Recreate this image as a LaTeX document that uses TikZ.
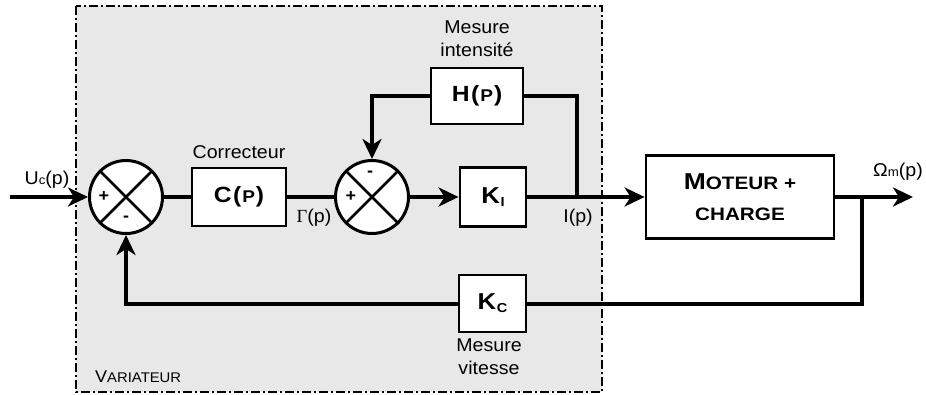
\documentclass[tikz,border=0pt]{standalone}
\usepackage{fontspec}
\setmainfont{Liberation Sans}[FakeStretch=1.06]
\newfontfamily\blkfont{Liberation Sans}[FakeStretch=1.12]
\newfontfamily\motfont{Liberation Sans}[FakeStretch=1.15]
\newfontfamily\serifgr{Liberation Serif}
\usetikzlibrary{arrows.meta}
\begin{document}
\begin{tikzpicture}[x=1pt,y=-1pt,
  blk/.style={draw,line width=2.8pt,fill=white,inner sep=0pt,font=\blkfont\bfseries\fontsize{22}{24}\selectfont},
  sumn/.style={draw,circle,line width=3pt,fill=white,minimum size=73pt,inner sep=0pt},
  cross/.style={line width=2.6pt},
  conn/.style={line width=4pt},
  arr/.style={conn,-{Stealth[length=20pt,width=19pt,inset=6pt]}},
  lbl/.style={font=\fontsize{18.5}{23}\selectfont,inner sep=0pt,align=center},
  sgn/.style={font=\bfseries\fontsize{17}{17}\selectfont,inner sep=0pt}]
\useasboundingbox (0,0) rectangle (926,394);
\draw[fill=black!9, line width=1.2pt, dash pattern=on 9pt off 3pt on 2pt off 3pt] (76,6) rectangle (602,392);

% summing junctions
\node[sumn] (s1) at (126,197) {};
\draw[cross] (s1.north west) -- (s1.south east) (s1.north east) -- (s1.south west);
\node[sgn] (s1p) at (104,197) {+};
\node[sgn] (s1m) at (126,219) {-};

\node[sumn] (s2) at (372,197) {};
\draw[cross] (s2.north west) -- (s2.south east) (s2.north east) -- (s2.south west);
\node[sgn] (s2p) at (351,197) {+};
\node[sgn] (s2m) at (370,174) {-};

% blocks
\node[blk,minimum width=94pt,minimum height=58pt] (C) at (239,197) {C\kern1.5pt(\kern1pt{\fontsize{17}{17}\selectfont P}\kern1pt)};
\node[blk,minimum width=92pt,minimum height=56pt] (H) at (477,96) {H\kern1.5pt(\kern1pt{\fontsize{17}{17}\selectfont P}\kern1pt)};
\node[blk,minimum width=66pt,minimum height=59pt] (KI) at (493,197) {{\fontsize{23}{23}\selectfont K}\kern0.5pt\raisebox{-3pt}{\fontsize{13}{13}\selectfont I}};
\node[blk,minimum width=67pt,minimum height=57pt] (Kc) at (492.5,303.5) {{\fontsize{23}{23}\selectfont K}\kern0.5pt\raisebox{-3pt}{\fontsize{13}{13}\selectfont C}};
\node[blk,minimum width=188pt,minimum height=83pt,align=center,font=\motfont\bfseries\fontsize{18}{31}\selectfont] (M) at (740,197) {{\fontsize{23}{31}\selectfont M}OTEUR +\\CHARGE};

% connectors
\coordinate (in) at (10,197);
\coordinate (b1) at (577,197);
\coordinate (b2) at (862,197);
\coordinate (out) at (913,197);
\draw[arr] (in) -- (s1.west);
\draw[conn] (s1.east) -- (C.west);
\draw[conn] (C.east) -- (s2.west);
\draw[arr] (s2.east) -- (KI.west);
\draw[arr] (KI.east) -- (M.west);
\draw[conn] (b1) |- (H.east);
\draw[arr] (H.west) -| (s2.north);
\draw[arr] (M.east) -- (out);
\draw[conn] (b2) |- (Kc.east);
\draw[arr] (Kc.west) -| (s1.south);

% labels
\node[lbl] (uc) at (47,180) {U{\fontsize{12.5}{12.5}\selectfont c}(p)};
\node[lbl] (corr) at (239,152) {Correcteur};
\node[lbl] (gam) at (314,218) {{\serifgr Γ}(p)};
\node[lbl] (ip) at (578,218) {I(p)};
\node[lbl] (mi) at (477,39) {Mesure\\intensité};
\node[lbl] (om) at (898,172) {Ω{\fontsize{12.5}{12.5}\selectfont m}(p)};
\node[lbl] (mv) at (489,357) {Mesure\\vitesse};
\node[lbl,anchor=base west] (var) at (95,382) {{\fontsize{17}{17}\selectfont V}{\fontsize{14}{14}\selectfont ARIATEUR}};
\end{tikzpicture}
\end{document}
